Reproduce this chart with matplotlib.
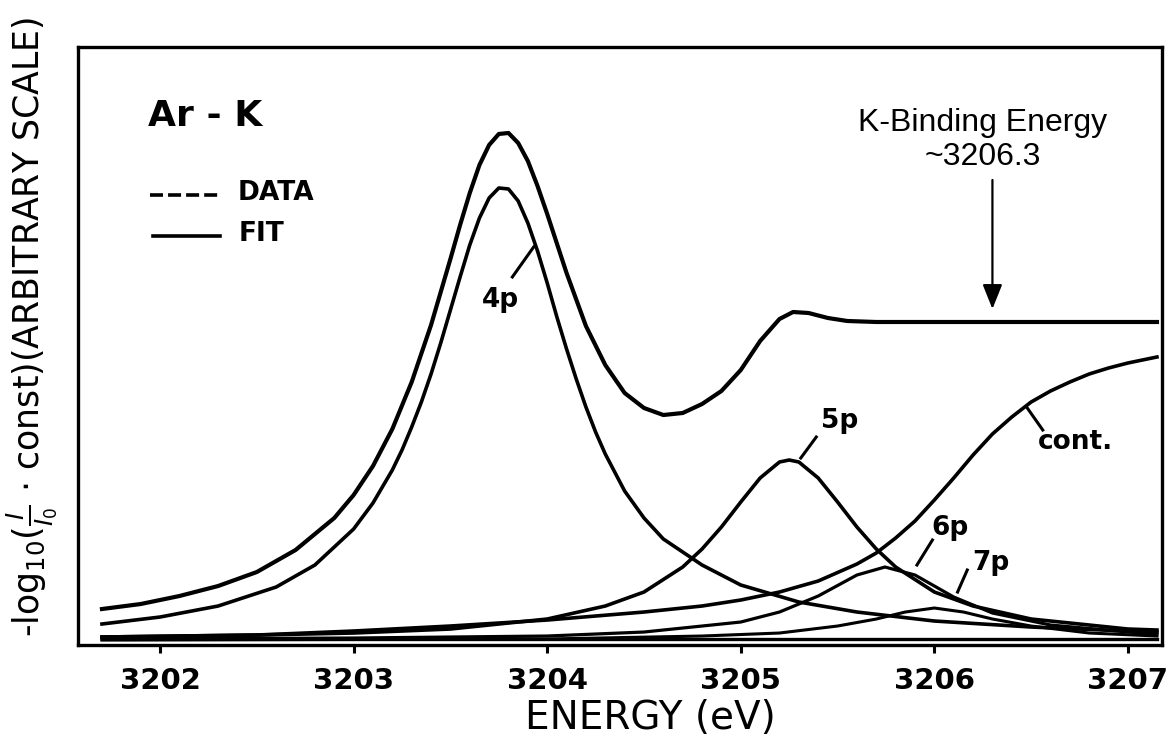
import matplotlib
matplotlib.use('Agg')

import matplotlib.pyplot as plt
from matplotlib.lines import Line2D

# photon energy (eV) and absorbance (arbitrary scale) for each curve
e_total = [3201.7, 3201.9, 3202.1, 3202.3, 3202.5, 3202.7, 3202.9, 3203.0, 3203.1,
           3203.2, 3203.3, 3203.4, 3203.5, 3203.55, 3203.6, 3203.65, 3203.7, 3203.75,
           3203.8, 3203.85, 3203.9, 3203.95, 3204.0, 3204.1, 3204.2, 3204.3, 3204.4,
           3204.5, 3204.6, 3204.7, 3204.8, 3204.9, 3205.0, 3205.1, 3205.2, 3205.27,
           3205.35, 3205.45, 3205.55, 3205.7, 3206.0, 3206.5, 3207.0, 3207.15]
a_total = [36, 41, 49, 59, 73, 95, 127, 150, 179,
           216, 263, 320, 386, 420, 452, 480, 500, 511,
           512, 502, 484, 459, 431, 372, 319, 280, 252,
           237, 230, 232, 241, 254, 275, 304, 326, 333,
           332, 327, 324, 323, 323, 323, 323, 323]

e_4p = [3201.7, 3202.0, 3202.3, 3202.6, 3202.8, 3203.0, 3203.1, 3203.2, 3203.25,
        3203.3, 3203.35, 3203.4, 3203.45, 3203.5, 3203.55, 3203.6, 3203.65, 3203.7,
        3203.75, 3203.8, 3203.85, 3203.9, 3203.95, 3204.0, 3204.05, 3204.1, 3204.15,
        3204.2, 3204.25, 3204.3, 3204.4, 3204.5, 3204.6, 3204.8, 3205.0, 3205.3,
        3205.6, 3206.0, 3206.5, 3207.0, 3207.15]
a_4p = [21, 28, 39, 58, 80, 116, 142, 175, 195,
        218, 243, 271, 302, 335, 368, 400, 427, 447,
        457, 456, 444, 422, 394, 362, 328, 296, 266,
        238, 213, 191, 154, 127, 106, 80, 60, 43,
        33, 24, 18, 14, 13]

e_5p = [3201.7, 3202.5, 3203.0, 3203.5, 3204.0, 3204.3, 3204.5, 3204.7, 3204.8,
        3204.9, 3205.0, 3205.1, 3205.2, 3205.25, 3205.3, 3205.4, 3205.5, 3205.6,
        3205.7, 3205.8, 3206.0, 3206.2, 3206.5, 3207.0, 3207.15]
a_5p = [8, 10, 12, 16, 26, 39, 53, 78, 96,
        118, 143, 167, 183, 185, 183, 167, 143, 118,
        96, 78, 53, 39, 26, 16, 15]

e_6p = [3201.7, 3203.0, 3204.0, 3204.5, 3205.0, 3205.2, 3205.4, 3205.6, 3205.745,
        3205.9, 3206.1, 3206.3, 3206.6, 3207.0, 3207.15]
a_6p = [6, 7, 9, 13, 23, 33, 49, 70, 78,
        70, 48, 32, 20, 13, 11]

e_7p = [3201.7, 3204.0, 3204.8, 3205.2, 3205.5, 3205.7, 3205.85, 3206.0, 3206.15,
        3206.3, 3206.5, 3206.8, 3207.15]
a_7p = [5, 6, 9, 12, 19, 26, 33, 37, 33,
        26, 19, 12, 9]

e_cont = [3201.7, 3202.5, 3203.0, 3203.5, 3204.0, 3204.5, 3204.8, 3205.0, 3205.2,
          3205.4, 3205.6, 3205.7, 3205.8, 3205.9, 3206.0, 3206.1, 3206.2, 3206.3,
          3206.4, 3206.5, 3206.6, 3206.7, 3206.8, 3206.9, 3207.0, 3207.15]
a_cont = [8, 10, 14, 19, 25, 33, 39, 45, 53,
          64, 81, 92, 107, 124, 145, 167, 190, 211,
          228, 243, 254, 263, 271, 277, 282, 288]

e_base = [3201.7, 3207.15]
a_base = [6, 6]

xticks = [3202, 3203, 3204, 3205, 3206, 3207]
k_edge = 3206.3

# label text, point on the curve, end of leader, text position
peak_labels = [
    ('4p', (3203.93, 398), (3203.82, 368), (3203.76, 345)),
    ('5p', (3205.31, 187), (3205.39, 208), (3205.51, 224)),
    ('6p', (3205.91, 80), (3205.99, 105), (3206.08, 117)),
    ('7p', (3206.12, 53), (3206.17, 75), (3206.29, 82)),
    ('cont.', (3206.48, 237), (3206.56, 215), (3206.73, 203)),
]

fig = plt.figure(figsize=(11.76, 7.42), dpi=100)
ax = fig.add_axes([0.0663, 0.1307, 0.9218, 0.806])

lw = 2.6
ax.plot(e_total, a_total, color='black', lw=lw + 0.4, solid_joinstyle='round')
ax.plot(e_4p, a_4p, color='black', lw=lw, solid_joinstyle='round')
ax.plot(e_5p, a_5p, color='black', lw=lw, solid_joinstyle='round')
ax.plot(e_6p, a_6p, color='black', lw=lw - 0.3, solid_joinstyle='round')
ax.plot(e_7p, a_7p, color='black', lw=lw - 0.4, solid_joinstyle='round')
ax.plot(e_cont, a_cont, color='black', lw=lw, solid_joinstyle='round')
ax.plot(e_base, a_base, color='black', lw=2.4)

for text, on_curve, end, pos in peak_labels:
    ax.plot([on_curve[0], end[0]], [on_curve[1], end[1]], color='black', lw=2.2)
    ax.text(pos[0], pos[1], text, fontsize=19, fontweight='bold',
            ha='center', va='center')

# binding energy arrow
ax.annotate('', xy=(k_edge, 336), xytext=(k_edge, 465),
            arrowprops=dict(arrowstyle='-|>,head_length=1.5,head_width=0.6',
                            color='black', lw=1.6, shrinkA=0, shrinkB=0))
ax.text(k_edge - 0.05, 522, 'K-Binding Energy', fontsize=23,
        family='Liberation Sans', ha='center', va='center')
ax.text(k_edge - 0.05, 488, '~3206.3', fontsize=23,
        family='Liberation Sans', ha='center', va='center')

# sample name and line key
ax.text(0.065, 0.885, 'Ar - K', transform=ax.transAxes, fontsize=26,
        fontweight='bold', ha='left', va='center')
ax.add_line(Line2D([0.066, 0.133], [0.753, 0.753], transform=ax.transAxes,
                   color='black', lw=2.6, ls=(0, (3.6, 1.4))))
ax.add_line(Line2D([0.069, 0.131], [0.684, 0.684], transform=ax.transAxes,
                   color='black', lw=2.6))
ax.text(0.147, 0.756, 'DATA', transform=ax.transAxes, fontsize=19,
        fontweight='bold', ha='left', va='center')
ax.text(0.148, 0.688, 'FIT', transform=ax.transAxes, fontsize=19,
        fontweight='bold', ha='left', va='center')

ax.set_xlim(3201.576, 3207.176)
ax.set_ylim(0, 598)
ax.set_xticks(xticks)
ax.set_xticklabels([str(t) for t in xticks], fontsize=21, fontweight='bold')
ax.set_yticks([])
ax.tick_params(axis='x', direction='out', length=6, width=2.2, pad=10)
for sp in ax.spines.values():
    sp.set_linewidth(2.4)

fig.text(650 / 1176, 1 - 718 / 742, 'ENERGY (eV)', fontsize=28,
         ha='center', va='center')
fig.text(0.027, 0.56, r'-log$_{10}$($\frac{I}{I_0}$ $\cdot$ const)(ARBITRARY SCALE)',
         rotation=90, fontsize=25, ha='center', va='center')

fig.savefig('out.png', dpi=100)
